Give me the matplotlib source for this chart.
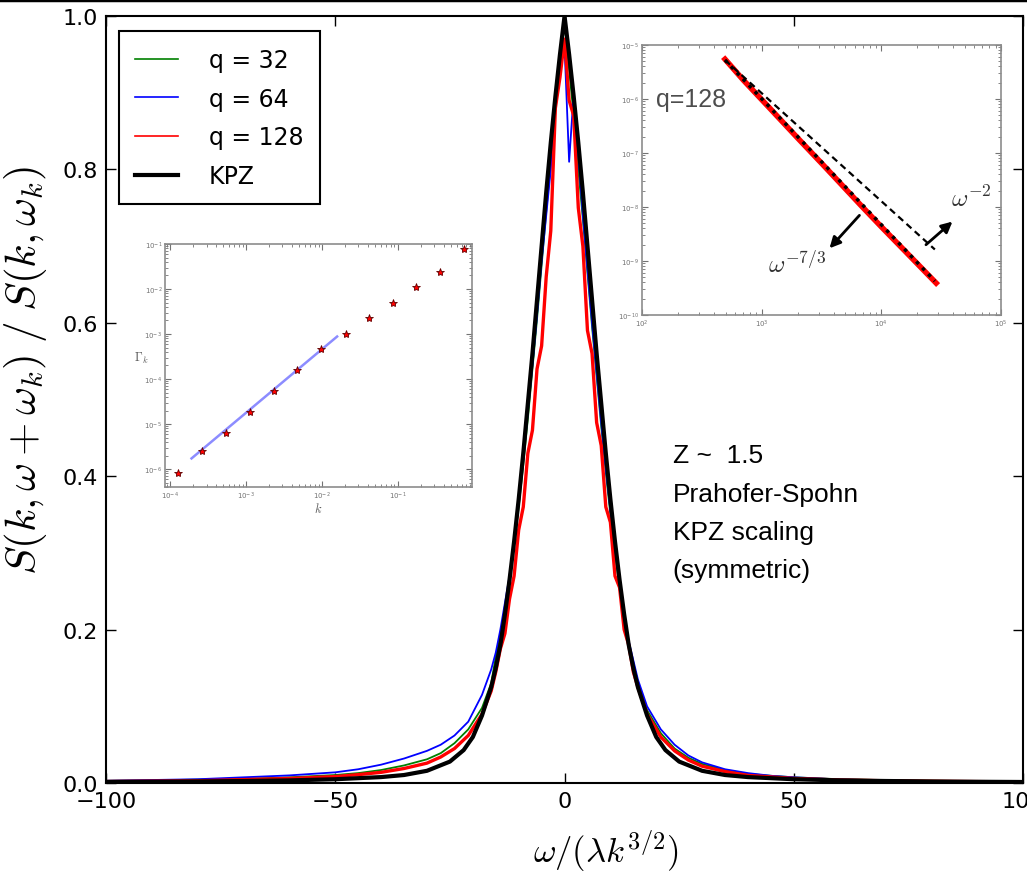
import numpy as np
import matplotlib.pyplot as plt
from matplotlib.lines import Line2D

plt.rcParams['mathtext.fontset'] = 'cm'
plt.rcParams['font.family'] = ['DejaVu Sans']

# --- main panel: normalised dynamic structure factor vs scaled frequency ---
# Prahofer-Spohn KPZ scaling function (omega >= 0, mirrored below)
kpz_w = [0, 1, 2, 3, 4, 5, 6, 7, 8, 9, 10, 11, 12, 13, 14, 15, 16, 18, 20,
         22, 25, 30, 35, 40, 50, 60, 70, 80, 90, 100]
kpz_s = [1.00, 0.95, 0.895, 0.835, 0.77, 0.70, 0.63, 0.56, 0.495, 0.43,
         0.37, 0.315, 0.265, 0.22, 0.18, 0.15, 0.125, 0.088, 0.060, 0.043,
         0.028, 0.016, 0.0105, 0.0078, 0.0050, 0.0035, 0.0027, 0.0021,
         0.0017, 0.0014]

omega = [-100, -90, -80, -70, -60, -50, -45, -40, -35, -30, -27, -24, -21,
         -18, -16,
         -15, -14, -13, -12, -11, -10, -9, -8, -7, -6, -5, -4, -3, -2, -1,
         0, 1, 2, 3, 4, 5, 6, 7, 8, 9, 10, 11, 12, 13, 14, 15,
         16, 18, 21, 24, 27, 30, 35, 40, 45, 50, 60, 70, 80, 90, 100]

s_q32 = [.003, .0035, .0045, .0055, .0075, .0105, .013, .017, .023, .031,
         .039, .052, .070, .098, .13,
         .165, .19, .225, .265, .31, .36, .415, .475, .54, .605, .675, .745,
         .81, .875, .94, .99, .93, .87, .80, .735, .665, .595, .53, .465,
         .405, .35, .30, .255, .215, .18, .155,
         .13, .095, .065, .045, .033, .025, .017, .012, .0095, .0075, .005,
         .0038, .003, .0026, .0023]

s_q64 = [.003, .004, .005, .0075, .010, .014, .018, .024, .032, .042, .050,
         .062, .080, .115, .148,
         .17, .20, .235, .27, .315, .37, .42, .485, .545, .61, .68, .74, .80,
         .90, .95, .96, .81, .90, .82, .74, .67, .60, .535, .47, .41, .355,
         .305, .26, .22, .185, .16,
         .135, .10, .07, .05, .036, .027, .018, .013, .0095, .0075, .0048,
         .0035, .0027, .0022, .0019]

s_q128 = [.002, .0025, .003, .0045, .006, .0085, .011, .014, .019, .026,
          .034, .045, .062, .090, .12,
          .145, .175, .195, .24, .27, .33, .36, .43, .46, .54, .57, .66, .72,
          .88, .92, .97, .89, .87, .75, .70, .59, .56, .47, .44, .36, .34,
          .27, .255, .20, .18, .145,
          .125, .09, .06, .042, .030, .022, .015, .010, .008, .006, .004,
          .003, .0024, .0019, .0016]

# --- left inset: damping rate vs wavenumber ---
k_vals = [1.27e-4, 2.62e-4, 5.36e-4, 1.11e-3, 2.29e-3, 4.72e-3, 9.66e-3,
          2.04e-2, 4.16e-2, 8.59e-2, 0.176, 0.363, 0.750]
gamma_vals = [8.0e-7, 2.47e-6, 6.2e-6, 1.82e-5, 5.3e-5, 1.58e-4, 4.56e-4,
              1.0e-3, 2.27e-3, 4.97e-3, 1.09e-2, 2.34e-2, 7.7e-2]
fit_k = [1.9e-4, 1.58e-2]
fit_amp, fit_exp = 0.305, 1.41

# --- right inset: high-frequency tail for q=128 ---
tail_w = [494, 708, 1172, 1995, 3266, 6808, 10000, 16140, 28710]
tail_s = [5.45e-6, 2.2e-6, 6.7e-7, 1.9e-7, 6.0e-8, 1.05e-8, 4.3e-9,
          1.45e-9, 3.9e-10]
guide_w = [494, 28000]

fig = plt.figure(figsize=(10.27, 8.79), dpi=100)
ax = fig.add_axes([0.1032, 0.108, 0.893, 0.8726])

kw = np.concatenate([-np.array(kpz_w[::-1]), np.array(kpz_w[1:])])
ks = np.concatenate([np.array(kpz_s[::-1]), np.array(kpz_s[1:])])

ax.plot(omega, s_q32, color='green', lw=1.3, label='q = 32')
ax.plot(omega, s_q64, color='blue', lw=1.3, label='q = 64')
ax.plot(omega, s_q128, color='red', lw=2.4, label='q = 128')
ax.plot(kw, ks, color='black', lw=3, label='KPZ')

ax.set_xlim(-100, 100)
ax.set_ylim(0, 1.0)
ax.set_xticks([-100, -50, 0, 50, 100])
ax.set_yticks([0, 0.2, 0.4, 0.6, 0.8, 1.0])
ax.set_yticklabels(['0.0', '0.2', '0.4', '0.6', '0.8', '1.0'])
ax.tick_params(direction='in', top=True, right=True, length=7, width=1,
               labelsize=16, pad=6)
for sp in ax.spines.values():
    sp.set_linewidth(1.5)

ax.set_xlabel(r'$\omega/(\lambda k^{3/2})$', fontsize=25)
ax.set_ylabel(r'$S(k,\omega+\omega_k)\;/\;S(k,\omega_k)$', fontsize=31)
ax.xaxis.set_label_coords(0.545, -0.058)
ax.yaxis.set_label_coords(-0.062, 0.54)

leg = ax.legend(loc='upper left', bbox_to_anchor=(0.014, 0.98),
                borderaxespad=0, fontsize=17, handlelength=1.8,
                handletextpad=1.3, labelspacing=0.62, borderpad=0.7,
                fancybox=False, framealpha=1)
leg.get_frame().set_edgecolor('black')
leg.get_frame().set_linewidth(1.5)
for h in leg.get_lines()[:3]:
    h.set_linewidth(1.2)

ax.text(0.618, 0.443, 'Z ~  1.5\nPrahofer-Spohn\nKPZ scaling\n(symmetric)',
        transform=ax.transAxes, fontsize=19, family='Liberation Sans',
        va='top', ha='left', linespacing=1.75)

# left inset
ax1 = fig.add_axes([0.1607, 0.4448, 0.2989, 0.2765])
kf = np.array(fit_k)
ax1.loglog(kf, fit_amp * kf ** fit_exp, color='#6f6fff', lw=1.8, alpha=0.8)
ax1.loglog(k_vals, gamma_vals, ls='none', marker='*', ms=6,
           mfc='red', mec='#600000', mew=0.6)
ax1.set_xlim(8.5e-5, 0.95)
ax1.set_ylim(4e-7, 0.1)
ax1.set_xlabel(r'$k$', fontsize=9, color='0.35', labelpad=0)
ax1.set_ylabel(r'$\Gamma_k$', fontsize=9, color='0.35', rotation=0,
               labelpad=2)

# right inset
ax2 = fig.add_axes([0.6251, 0.6405, 0.3496, 0.3072])
gw = np.array(guide_w, dtype=float)
ax2.loglog(tail_w, tail_s, color='red', lw=4)
ax2.loglog(gw, 5.25e-6 * (gw / gw[0]) ** (-7 / 3), color='black', lw=2.5,
           ls=(0, (1, 1.5)))
ax2.loglog(gw, 5.25e-6 * (gw / gw[0]) ** (-2.0), color='black', lw=1.6,
           ls=(0, (3, 2)))
ax2.set_xlim(1e2, 1e5)
ax2.set_ylim(1e-10, 1e-5)
ax2.text(0.04, 0.80, 'q=128', transform=ax2.transAxes, fontsize=18,
         family='Liberation Sans', color='0.3', va='center')
ax2.annotate('', xy=(3690, 1.72e-9), xytext=(6560, 7.0e-9),
             arrowprops=dict(arrowstyle='-|>', color='black', lw=2,
                             mutation_scale=16, shrinkA=0, shrinkB=0))
ax2.text(1995, 9.1e-10, r'$\omega^{-7/3}$', fontsize=18, ha='center',
         va='center', color='0.2')
ax2.annotate('', xy=(39300, 5.37e-9), xytext=(23600, 2.0e-9),
             arrowprops=dict(arrowstyle='-|>', color='black', lw=2,
                             mutation_scale=16, shrinkA=0, shrinkB=0))
ax2.text(56200, 1.44e-8, r'$\omega^{-2}$', fontsize=18, ha='center',
         va='center', color='0.2')

for a in (ax1, ax2):
    a.tick_params(which='both', direction='in', top=True, right=True,
                  labelsize=5, colors='0.45', pad=2)
    a.tick_params(which='major', length=4)
    a.tick_params(which='minor', length=2)
    for sp in a.spines.values():
        sp.set_color('0.55')
        sp.set_linewidth(1.2)

# edge of the panel above
fig.add_artist(Line2D([0, 1], [0.9985, 0.9985], color='black', lw=2.5,
                      transform=fig.transFigure))

fig.savefig('out.png', dpi=100)
